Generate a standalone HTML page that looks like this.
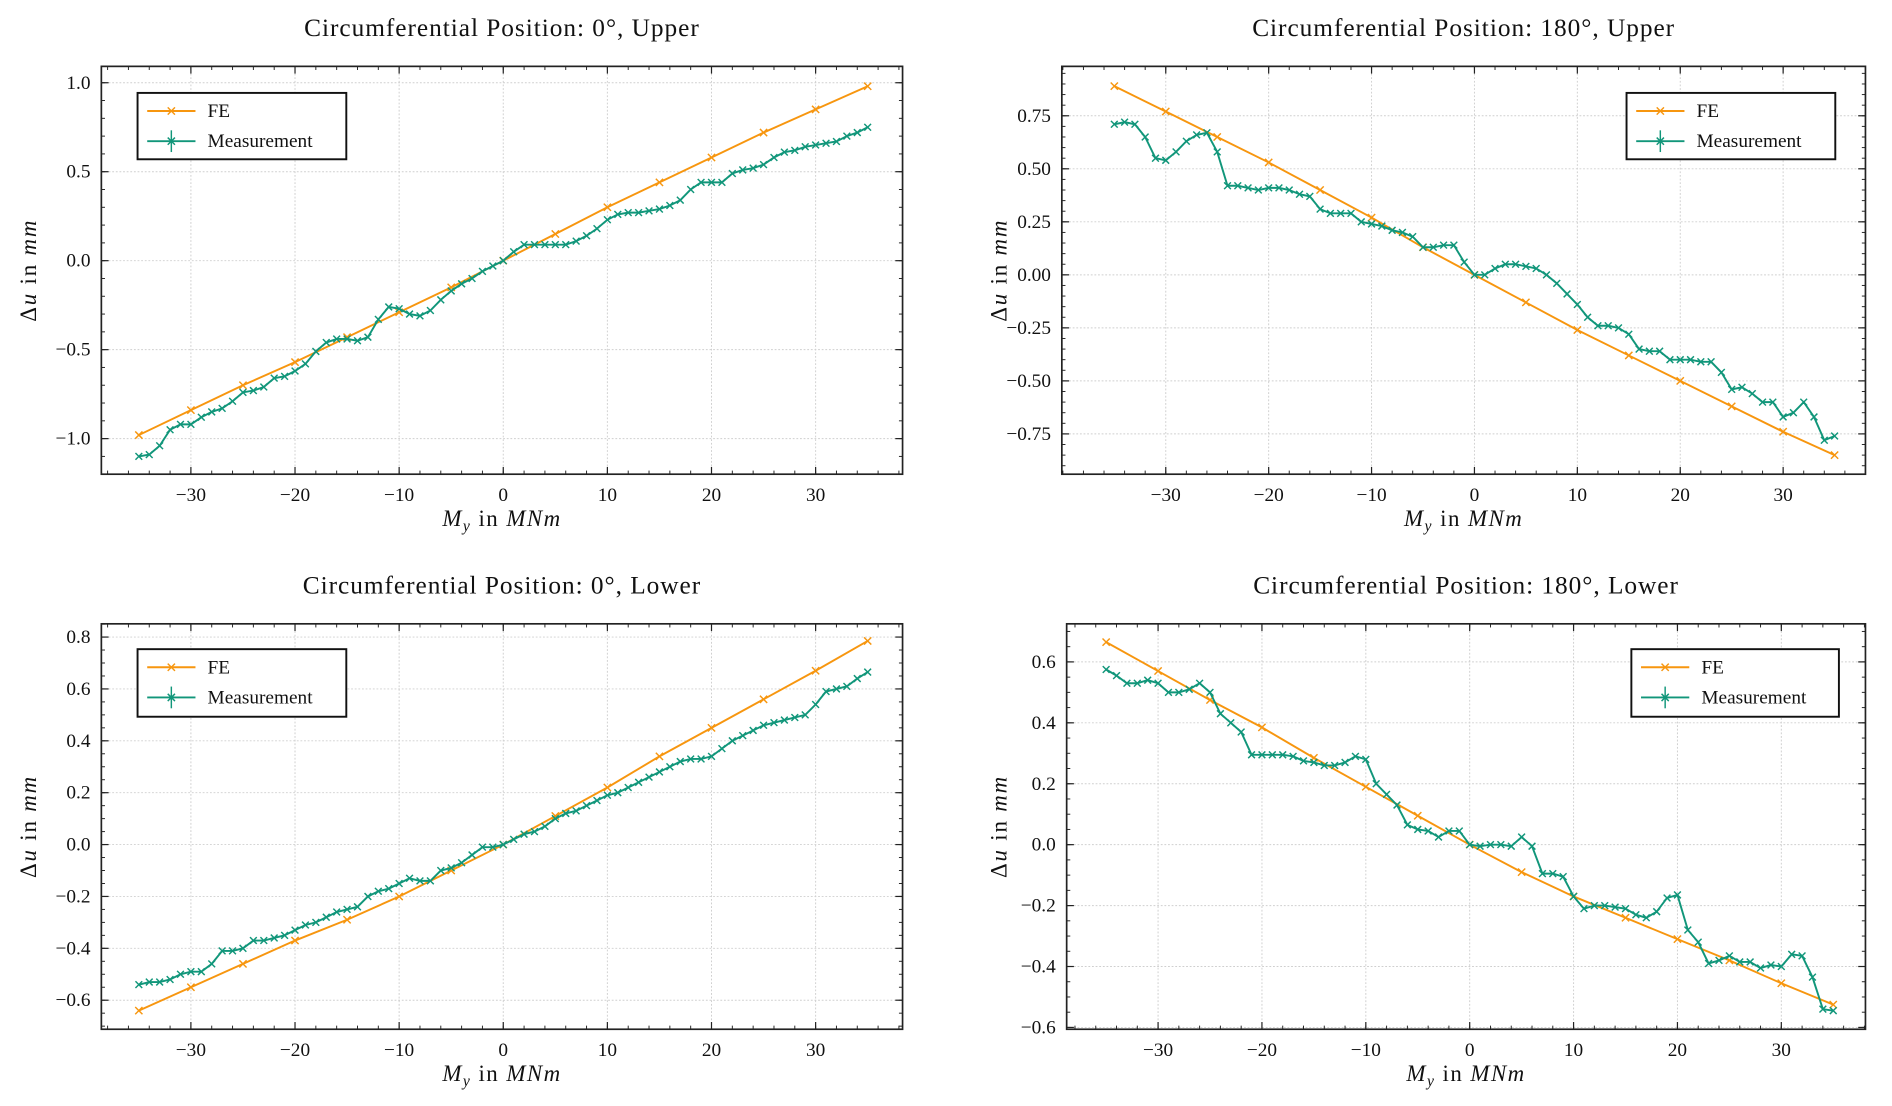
<!DOCTYPE html>
<html><head><meta charset="utf-8">
<style>
html,body{margin:0;padding:0;background:#fff;}
svg{display:block;}
text{font-family:"Liberation Serif",serif;fill:#111;}
</style></head>
<body>
<svg id="fig" width="1892" height="1106" viewBox="0 0 1568 916.6" xmlns="http://www.w3.org/2000/svg"></svg>
<script>
const xTicks=[-30,-20,-10,0,10,20,30];
const feX=[-35,-30,-25,-20,-15,-10,-5,0,5,10,15,20,25,30,35];
const measX=[-35,-34,-33,-32,-31,-30,-29,-28,-27,-26,-25,-24,-23,-22,-21,-20,-19,-18,-17,-16,-15,-14,-13,-12,-11,-10,-9,-8,-7,-6,-5,-4,-3,-2,-1,0,1,2,3,4,5,6,7,8,9,10,11,12,13,14,15,16,17,18,19,20,21,22,23,24,25,26,27,28,29,30,31,32,33,34,35];
const feUpper0=[-0.98,-0.84,-0.70,-0.57,-0.43,-0.29,-0.15,0,0.15,0.30,0.44,0.58,0.72,0.85,0.98];
const measUpper0=[-1.10,-1.09,-1.04,-0.95,-0.92,-0.92,-0.88,-0.85,-0.83,-0.79,-0.74,-0.73,-0.71,-0.66,-0.65,-0.62,-0.58,-0.51,-0.46,-0.44,-0.44,-0.45,-0.43,-0.33,-0.26,-0.27,-0.30,-0.31,-0.28,-0.22,-0.17,-0.13,-0.10,-0.06,-0.03,0.00,0.05,0.09,0.09,0.09,0.09,0.09,0.11,0.14,0.18,0.23,0.26,0.27,0.27,0.28,0.29,0.31,0.34,0.40,0.44,0.44,0.44,0.49,0.51,0.52,0.54,0.58,0.61,0.62,0.64,0.65,0.66,0.67,0.70,0.72,0.75];
const feUpper180=[0.89,0.77,0.65,0.53,0.40,0.27,0.13,0,-0.13,-0.26,-0.38,-0.50,-0.62,-0.74,-0.85];
const measUpper180=[0.71,0.72,0.71,0.65,0.55,0.54,0.58,0.63,0.66,0.67,0.58,0.42,0.42,0.41,0.40,0.41,0.41,0.40,0.38,0.37,0.31,0.29,0.29,0.29,0.25,0.24,0.23,0.21,0.20,0.18,0.13,0.13,0.14,0.14,0.06,0.00,0.00,0.03,0.05,0.05,0.04,0.03,0.00,-0.04,-0.09,-0.14,-0.20,-0.24,-0.24,-0.25,-0.28,-0.35,-0.36,-0.36,-0.40,-0.40,-0.40,-0.41,-0.41,-0.46,-0.54,-0.53,-0.56,-0.60,-0.60,-0.67,-0.65,-0.60,-0.67,-0.78,-0.76];
const feLower0=[-0.64,-0.55,-0.46,-0.37,-0.29,-0.20,-0.10,0,0.11,0.22,0.34,0.45,0.56,0.67,0.785];
const measLower0=[-0.54,-0.53,-0.53,-0.52,-0.50,-0.49,-0.49,-0.46,-0.41,-0.41,-0.40,-0.37,-0.37,-0.36,-0.35,-0.33,-0.31,-0.30,-0.28,-0.26,-0.25,-0.24,-0.20,-0.18,-0.17,-0.15,-0.13,-0.14,-0.14,-0.10,-0.09,-0.07,-0.04,-0.01,-0.01,0.00,0.02,0.04,0.05,0.07,0.10,0.12,0.13,0.15,0.17,0.19,0.20,0.22,0.24,0.26,0.28,0.30,0.32,0.33,0.33,0.34,0.37,0.40,0.42,0.44,0.46,0.47,0.48,0.49,0.50,0.54,0.59,0.60,0.61,0.64,0.665];
const feLower180=[0.665,0.57,0.475,0.385,0.285,0.19,0.095,0,-0.09,-0.17,-0.24,-0.31,-0.38,-0.455,-0.525];
const measLower180=[0.575,0.555,0.53,0.53,0.54,0.53,0.50,0.50,0.51,0.53,0.50,0.43,0.40,0.37,0.295,0.295,0.295,0.295,0.29,0.275,0.27,0.26,0.26,0.27,0.29,0.28,0.20,0.165,0.13,0.065,0.05,0.045,0.025,0.045,0.045,0.00,-0.005,0.00,0.00,-0.005,0.025,-0.005,-0.095,-0.095,-0.105,-0.17,-0.21,-0.20,-0.20,-0.205,-0.21,-0.23,-0.24,-0.22,-0.175,-0.165,-0.28,-0.32,-0.39,-0.38,-0.365,-0.385,-0.385,-0.405,-0.395,-0.40,-0.36,-0.365,-0.435,-0.54,-0.545];
const yTicksUpper0=[-1.0,-0.5,0.0,0.5,1.0];
const yTicksUpper180=[-0.75,-0.5,-0.25,0,0.25,0.5,0.75];
const yTicksLower0=[-0.6,-0.4,-0.2,0,0.2,0.4,0.6,0.8];
const yTicksLower180=[-0.6,-0.4,-0.2,0,0.2,0.4,0.6];

const NS="http://www.w3.org/2000/svg";
const fig=document.getElementById('fig');
function mk(tag,attrs,parent){const e=document.createElementNS(NS,tag);for(const k in attrs)e.setAttribute(k,attrs[k]);(parent||fig).appendChild(e);return e;}
const ORANGE="#f7960f",TEAL="#11967a";
function fmt(v,d){const s=Math.abs(v).toFixed(d);return (v<-1e-9?"\u2212":"")+s;}

const panels=[
 {id:'upper-0',title:'Circumferential Position: 0°, Upper',box:[84,55,748,393],xd:[-38.6,38.35],yd:[-1.2,1.092],yt:yTicksUpper0,dec:1,minor:0.1,fe:feUpper0,ms:measUpper0,leg:[114,77,287,132],ylx:24},
 {id:'upper-180',title:'Circumferential Position: 180°, Upper',box:[880,55,1546,393],xd:[-40.1,38.0],yd:[-0.94,0.983],yt:yTicksUpper180,dec:2,minor:0.05,fe:feUpper180,ms:measUpper180,leg:[1348,77,1521,132],ylx:828},
 {id:'lower-0',title:'Circumferential Position: 0°, Lower',box:[84,517,748,853],xd:[-38.6,38.35],yd:[-0.712,0.851],yt:yTicksLower0,dec:1,minor:0.05,fe:feLower0,ms:measLower0,leg:[114,538,287,594],ylx:24},
 {id:'lower-180',title:'Circumferential Position: 180°, Lower',box:[884,517,1546,853],xd:[-38.8,38.1],yd:[-0.606,0.725],yt:yTicksLower180,dec:1,minor:0.05,fe:feLower180,ms:measLower180,leg:[1352,538,1524,594],ylx:828}
];

function xmark(g,x,y,c,s){mk('path',{d:`M${x-s},${y-s}L${x+s},${y+s}M${x-s},${y+s}L${x+s},${y-s}`,stroke:c,'stroke-width':1.2,fill:'none'},g);}

panels.forEach(p=>{
 const [l,t,r,b]=p.box;
 const sx=v=>l+(v-p.xd[0])/(p.xd[1]-p.xd[0])*(r-l);
 const sy=v=>b-(v-p.yd[0])/(p.yd[1]-p.yd[0])*(b-t);
 const g=mk('g',{});
 
 
 const tt=mk('text',{x:(l+r)/2,y:t-25,'text-anchor':'middle','font-size':21,'letter-spacing':0.8},g);
 tt.textContent=p.title;
 
 
 xTicks.forEach(v=>{const gl=mk('line',{x1:sx(v),x2:sx(v),y1:t,y2:b,stroke:'#cfcfcf','stroke-width':0.8,'stroke-dasharray':'1.5,1.5'},g);
  });
 p.yt.forEach(v=>{const gl=mk('line',{x1:l,x2:r,y1:sy(v),y2:sy(v),stroke:'#cfcfcf','stroke-width':0.8,'stroke-dasharray':'1.5,1.5'},g);
  });
 for(let v=Math.ceil(p.xd[0]/2)*2;v<=p.xd[1];v+=2){mk('line',{x1:sx(v),x2:sx(v),y1:b,y2:b-3,stroke:'#222','stroke-width':0.8},g);mk('line',{x1:sx(v),x2:sx(v),y1:t,y2:t+3,stroke:'#222','stroke-width':0.8},g);}
 for(let k=Math.ceil(p.yd[0]/p.minor);k*p.minor<=p.yd[1];k++){const v=k*p.minor;mk('line',{x1:l,x2:l+3,y1:sy(v),y2:sy(v),stroke:'#222','stroke-width':0.8},g);mk('line',{x1:r,x2:r-3,y1:sy(v),y2:sy(v),stroke:'#222','stroke-width':0.8},g);}
 xTicks.forEach(v=>{mk('line',{x1:sx(v),x2:sx(v),y1:b,y2:b-6,stroke:'#222','stroke-width':1},g);mk('line',{x1:sx(v),x2:sx(v),y1:t,y2:t+6,stroke:'#222','stroke-width':1},g);
  const tx=mk('text',{x:sx(v),y:b+22,'text-anchor':'middle','font-size':16},g);tx.textContent=fmt(v,0);
  });
 p.yt.forEach(v=>{mk('line',{x1:l,x2:l+6,y1:sy(v),y2:sy(v),stroke:'#222','stroke-width':1},g);mk('line',{x1:r,x2:r-6,y1:sy(v),y2:sy(v),stroke:'#222','stroke-width':1},g);
  const tx=mk('text',{x:l-9,y:sy(v)+5,'text-anchor':'end','font-size':16},g);tx.textContent=fmt(v,p.dec);
  });
 const xl=mk('text',{x:(l+r)/2,y:b+43,'text-anchor':'middle','font-size':19,'letter-spacing':1.2},g);
 xl.innerHTML='<tspan font-style="italic">M</tspan><tspan font-style="italic" font-size="13" dy="4">y</tspan><tspan dy="-4"> in </tspan><tspan font-style="italic">MNm</tspan>';
 
 const yl=mk('text',{x:0,y:0,'text-anchor':'middle','font-size':19,'letter-spacing':1.5,transform:`translate(${p.ylx+6},${(t+b)/2}) rotate(-90)`},g);
 yl.innerHTML='Δ<tspan font-style="italic">u</tspan> in <tspan font-style="italic">mm</tspan>';
 
 const fe=mk('g',{},g);
 mk('polyline',{points:feX.map((x,i)=>sx(x)+','+sy(p.fe[i])).join(' '),fill:'none',stroke:ORANGE,'stroke-width':1.6},fe);
 feX.forEach((x,i)=>xmark(fe,sx(x),sy(p.fe[i]),ORANGE,3));
 const ms=mk('g',{},g);
 mk('polyline',{points:measX.map((x,i)=>sx(x)+','+sy(p.ms[i])).join(' '),fill:'none',stroke:TEAL,'stroke-width':1.6},ms);
 measX.forEach((x,i)=>xmark(ms,sx(x),sy(p.ms[i]),TEAL,2.8));
 const fr=mk('rect',{x:l,y:t,width:r-l,height:b-t,fill:'none',stroke:'#222','stroke-width':1.4},g);
 
 const [ll,lt,lr,lb]=p.leg;
 const lg=mk('g',{},g);
 mk('rect',{x:ll,y:lt,width:lr-ll,height:lb-lt,fill:'#fff',stroke:'#111','stroke-width':1.6},lg);
 const y1=lt+15,y2=lt+40;
 mk('line',{x1:ll+8,x2:ll+48,y1:y1,y2:y1,stroke:ORANGE,'stroke-width':1.6},lg);xmark(lg,ll+28,y1,ORANGE,3);
 const t1=mk('text',{x:ll+58,y:y1+5,'font-size':16},lg);t1.textContent='FE';
 
 mk('line',{x1:ll+8,x2:ll+48,y1:y2,y2:y2,stroke:TEAL,'stroke-width':1.6},lg);
 mk('line',{x1:ll+28,x2:ll+28,y1:y2-9,y2:y2+9,stroke:TEAL,'stroke-width':1.2},lg);xmark(lg,ll+28,y2,TEAL,3);
 const t2=mk('text',{x:ll+58,y:y2+5,'font-size':16},lg);t2.textContent='Measurement';
 
});
</script>
</body></html>
